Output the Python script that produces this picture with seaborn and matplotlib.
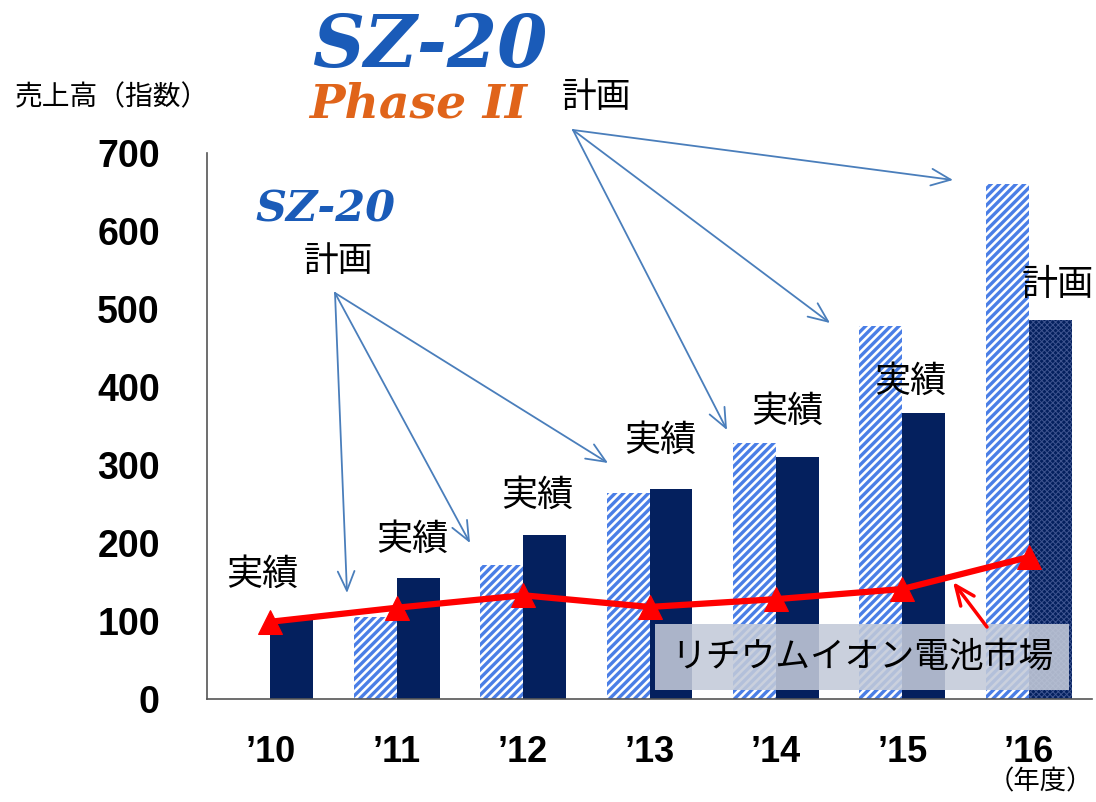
import pandas as pd
import numpy as np
import matplotlib
matplotlib.use("Agg")
import matplotlib.pyplot as plt
import seaborn as sns

### data
years = ["’10", "’11", "’12", "’13", "’14", "’15", "’16"]
plan_values = [np.nan, 105, 172, 264, 328, 478, 660]      # SZ-20 / Phase II plan (hatched)
actual_values = [101, 155, 210, 269, 310, 367, 486]      # results ('16 = plan)
market_values = [99, 117, 133, 118, 128, 141, 182]       # Li-ion battery market
y_ticks = [0, 100, 200, 300, 400, 500, 600, 700]

sns.set_style("white")
plt.rcParams["font.family"] = ["Noto Sans CJK JP", "DejaVu Sans"]
plt.rcParams["hatch.linewidth"] = 2.4
plt.rcParams["text.color"] = "black"
plt.rcParams["xtick.labelcolor"] = "black"
plt.rcParams["ytick.labelcolor"] = "black"

W, H = 1096, 802
fig = plt.figure(figsize=(W / 100, H / 100), dpi=100)
ax = fig.add_axes([207 / W, 1 - 699 / H, 885 / W, 546 / H])

df = pd.DataFrame({
    "year": years * 2,
    "value": plan_values + actual_values,
    "kind": ["計画"] * len(years) + ["実績"] * len(years),
})

sns.barplot(data=df, x="year", y="value", hue="kind", hue_order=["計画", "実績"],
            order=years, width=0.68, legend=False, ax=ax, saturation=1)

navy = "#04205e"
stripe = "#4a7ee6"
for bar in ax.containers[0]:
    bar.set_facecolor("white")
    bar.set_edgecolor(stripe)
    bar.set_hatch("////")
    bar.set_linewidth(0)
for i, bar in enumerate(ax.containers[1]):
    bar.set_facecolor(navy)
    bar.set_edgecolor(navy)
    bar.set_linewidth(0)
    if i == len(years) - 1:
        # last one is a plan -> fine dotted navy
        bar.set_edgecolor("#3f5590")
        bar.set_hatch("xxxxxx")
        bar.set_linewidth(0)
        if hasattr(bar, "set_hatch_linewidth"):
            bar.set_hatch_linewidth(0.7)
        else:
            bar._hatch_linewidth = 0.7

# market line
sns.lineplot(x=np.arange(len(years)), y=market_values, color="#ff0000", lw=4.5,
             marker="^", markersize=17, markeredgecolor="#ff0000", ax=ax, zorder=5)

ax.set_xlim(-0.5, 6.5)
ax.set_ylim(0, 700)
ax.set_yticks(y_ticks)
ax.set_xticks(np.arange(len(years)))
ax.set_xticklabels(years)
ax.set_xticks(np.arange(len(years) - 1) + 0.5, minor=True)
ax.set_xlabel("")
ax.set_ylabel("")
for s in ["top", "right"]:
    ax.spines[s].set_visible(False)
for s in ["left", "bottom"]:
    ax.spines[s].set_color("#555555")
    ax.spines[s].set_linewidth(1.2)
ax.tick_params(axis="y", direction="in", length=8, width=1, color="#555555", pad=34,
               labelsize=27, labelcolor="black")
ax.tick_params(axis="x", which="major", length=0, pad=26, labelsize=26, labelcolor="black")
ax.tick_params(axis="x", which="minor", direction="in", length=8, width=1, color="#555555")
for lab in ax.get_yticklabels() + ax.get_xticklabels():
    lab.set_fontweight("bold")
    lab.set_family(["Liberation Sans", "DejaVu Sans"])

jp = ["Noto Sans CJK JP", "DejaVu Sans"]

def px(x, y):
    return x / W, 1 - y / H

# titles / logos
fig.text(*px(15, 97), "売上高（指数）", fontsize=20, family=jp, va="center", ha="left")
fig.text(*px(430, 47), "SZ-20", fontsize=52, family="DejaVu Serif", weight="bold",
         style="italic", color="#1a5bb8", ha="center", va="center")
fig.text(*px(418, 104), "Phase II", fontsize=34, family="DejaVu Serif", weight="bold",
         style="italic", color="#e0641a", ha="center", va="center")
fig.text(*px(596, 97), "計画", fontsize=25, family=jp, ha="center", va="center")
fig.text(*px(325, 209), "SZ-20", fontsize=31, family="DejaVu Serif", weight="bold",
         style="italic", color="#1a5bb8", ha="center", va="center")
fig.text(*px(338, 262), "計画", fontsize=25, family=jp, ha="center", va="center")
fig.text(*px(1040, 782), "（年度）", fontsize=19, family=jp, ha="center", va="center")

# 実績 labels
label_pos = [(262, 575), (412, 540), (537, 496), (660, 441), (787, 412), (910, 382)]
for (x, y) in label_pos:
    fig.text(*px(x, y), "実績", fontsize=26, family=jp, ha="center", va="center")
fig.text(*px(1058, 285), "計画", fontsize=26, family=jp, ha="center", va="center")

# blue arrows
arrow_kw = dict(arrowstyle="->,head_length=0.7,head_width=0.3", mutation_scale=20,
                color="#4a7ebb", lw=1.3)
for start, ends in [((335, 293), [(347, 593), (470, 543), (608, 463)]),
                    ((573, 130), [(727, 430), (830, 323), (953, 180)])]:
    for end in ends:
        fig.add_artist(matplotlib.patches.FancyArrowPatch(
            px(*start), px(*end), transform=fig.transFigure, shrinkA=0, shrinkB=0,
            **arrow_kw, zorder=6))

# market label box and red arrow
fig.text(*px(862, 657), "リチウムイオン電池市場", fontsize=25, family=jp, ha="center",
         va="center", zorder=7,
         bbox=dict(boxstyle="square,pad=0.45", fc="#c3cad9", ec="none", alpha=0.88))
fig.add_artist(matplotlib.patches.FancyArrowPatch(
    px(987, 627), px(953, 582), transform=fig.transFigure, shrinkA=0, shrinkB=0,
    arrowstyle="->,head_length=0.7,head_width=0.3", mutation_scale=20,
    color="#ff0000", lw=2.5, zorder=8))

fig.savefig("out.png", dpi=100)
